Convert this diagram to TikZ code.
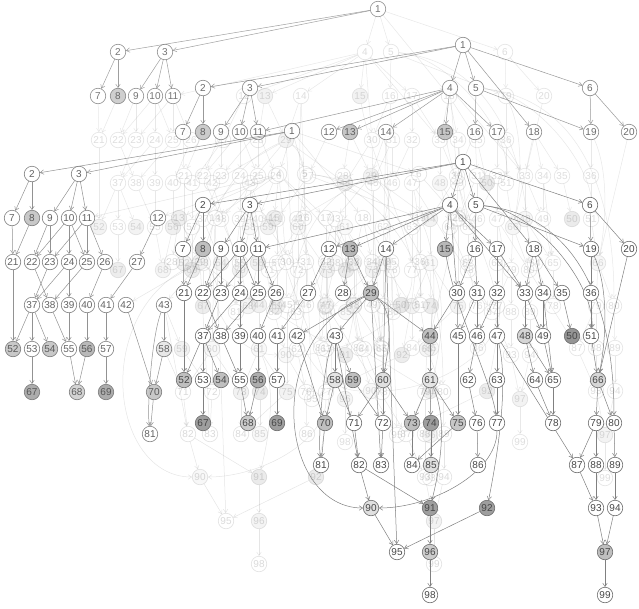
\documentclass[tikz,border=0pt]{standalone}
\usepackage{fontspec}
\setmainfont{Liberation Sans}
\usetikzlibrary{arrows.meta}
\makeatletter
\newcommand\gfsetop[2]{%
  \edef\gf@tmp{\noexpand\in@{,#1,}{,\frSet,}}\gf@tmp
  \ifin@\edef#2{\frStrong}\else\edef#2{\frWeak}\fi}
\makeatother
\tikzset{
  gshape/.style={circle, minimum size=15.5pt, inner sep=0pt},
  gnode/.style={gshape, draw=black!58, line width=0.6pt,
    text=black!72, font=\fontsize{10}{10}\selectfont},
  gedge/.style={draw=black!50, line width=0.5pt,
    -{Straight Barb[length=3.5pt,width=4.5pt]}}
}
\def\nodelist{1/463/162/0,
2/203/205/0, 3/250/205/0, 4/450/205/0, 5/476/205/0, 6/590/205/0,
7/183/249/0, 8/203/249/25, 9/221/249/0, 10/240/249/0, 11/258/249/0, 12/329/249/0, 13/350/249/28, 14/386/249/0, 15/445/249/28, 16/475/249/0, 17/497/249/0, 18/534/249/0, 19/591/249/0, 20/629/249/0,
21/184/293/0, 22/203/293/0, 23/221/293/0, 24/240/293/0, 25/258/293/0, 26/276/293/0, 27/308/293/0, 28/343/293/0, 29/371/293/25, 30/457/293/0, 31/477/293/0, 32/497/293/0, 33/525/293/0, 34/543/293/0, 35/562/293/0, 36/591/293/0,
37/203/336/0, 38/221/336/0, 39/240/336/0, 40/258/336/0, 41/277/336/0, 42/297/336/0, 43/335/336/0, 44/430/336/25, 45/458/336/0, 46/477/336/0, 47/497/336/0, 48/525/336/16, 49/543/336/0, 50/572/336/42, 51/591/336/0,
52/184/380/25, 53/203/380/0, 54/221/380/25, 55/240/380/0, 56/258/380/32, 57/277/380/0, 58/335/380/10, 59/353/380/25, 60/383/380/12, 61/430/380/10, 62/468/380/0, 63/497/380/0, 64/535/380/0, 65/553/380/0, 66/598/380/16,
67/203/423/38, 68/248/423/20, 69/277/423/38, 70/325/423/25, 71/354/423/0, 72/383/423/0, 73/412/423/25, 74/431/423/38, 75/458/423/22, 76/477/423/0, 77/497/423/0, 78/553/423/0, 79/596/423/0, 80/614/423/0,
81/321/465/0, 82/359/465/0, 83/381/465/0, 84/412/465/0, 85/431/465/12, 86/478/465/0, 87/577/465/0, 88/596/465/0, 89/615/465/0,
90/371/508/12, 91/430/508/38, 92/487/508/38, 93/596/508/0, 94/615/508/0,
95/397/552/0, 96/430/552/20, 97/605/552/25,
98/430/595/0, 99/605/595/0}
\def\edgelist{1/2, 1/3, 1/4, 1/5, 1/6, 1/18,
2/7, 2/8, 3/9, 3/10, 3/11,
4/11, 4/12, 4/13, 4/14, 4/15, 4/30, 4/17, 4/33,
5/16, 5/19, 6/19, 6/20,
7/21, 8/21, 9/22, 9/23, 10/22, 10/24, 10/25, 11/23, 11/25, 11/26,
12/27, 13/28, 13/29, 14/29, 14/60, 14/95,
16/30, 16/31, 17/32, 17/33, 18/33, 18/34, 18/35, 19/36, 20/66,
21/52, 22/38, 23/37, 24/37, 24/39, 25/38, 26/40, 27/41,
29/42, 29/43, 29/44, 29/83,
30/44, 30/45, 31/45, 31/46, 32/46, 32/47, 33/48, 33/49, 34/49, 34/65, 35/50, 36/51,
37/52, 37/53, 37/54, 38/55, 39/55, 40/56, 41/57, 42/70, 43/58, 43/59, 43/82,
44/61, 45/75, 46/62, 47/63, 47/87, 48/64, 48/65, 49/65, 51/66,
53/67, 55/68, 56/68, 57/69, 58/70, 58/71, 59/72, 60/71, 60/72, 60/73, 61/73, 61/74, 61/75, 62/76, 63/77, 64/78, 65/78, 66/79, 66/80,
70/81, 71/82, 72/83, 73/84, 74/85, 75/84, 76/86, 79/87, 79/88, 80/89,
82/90, 82/91, 87/93, 88/93, 89/94,
90/95, 91/96, 92/95, 93/97, 94/97, 96/98, 97/99}
\def\curvelist{5/51/60/5/5/-50, 5/80/100/10/0/-120, 15/77/10/60/-5/-40,
19/66/18/40/8/-40, 29/60/25/20/5/-30, 29/90/-110/50/-90/0,
43/81/-12/30/-3/-30, 47/92/12/50/10/-50, 61/91/18/40/10/-40, 77/90/0/50/60/0}
\newcommand\drawframe[6]{%
  \def\frSet{#4}\def\frStrong{#5}\def\frWeak{#6}%
  \begin{scope}[shift={(#2,#3)}]
  \foreach \n/\x/\y/\f in \nodelist {
    \node[gshape] (#1\n) at (\x,\y) {};
  }
  \foreach \s/\t in \edgelist {
    \gfsetop{\s}{\opa}\gfsetop{\t}{\opb}
    \pgfmathsetmacro\eop{min(\opa,\opb)}
    \draw[gedge, draw opacity=\eop] (#1\s) -- (#1\t);
  }
  \foreach \s/\t/\ax/\ay/\bx/\by in \curvelist {
    \gfsetop{\s}{\opa}\gfsetop{\t}{\opb}
    \pgfmathsetmacro\eop{min(\opa,\opb)}
    \draw[gedge, draw opacity=\eop] (#1\s) .. controls +(\ax,\ay) and +(\bx,\by) .. (#1\t);
  }
  \foreach \n/\x/\y/\f in \nodelist {
    \gfsetop{\n}{\nop}
    \node[gnode, fill=black!\f, draw opacity=\nop, fill opacity=\nop, text opacity=\nop] (#1\n v) at (\x,\y) {\n};
  }
  \end{scope}}
\begin{document}
\begin{tikzpicture}[x=1pt,y=-1pt]
\fill[white] (0,0) rectangle (639,608);
\useasboundingbox (0,0) rectangle (639,608);
\drawframe{A}{-85}{-153}{1,2,3,7,8,9,10,11}{0.75}{0.18}
\drawframe{B}{0}{-117}{1,2,3,4,5,6,7,8,9,10,11,12,13,14,15,16,17,18,19,20}{0.8}{0.18}
\drawframe{L}{-171}{-31}{1,2,3,7,8,9,10,11,12,21,22,23,24,25,26,27,37,38,39,40,41,42,43,52,53,54,55,56,57,58,67,68,69,70,81}{0.85}{0.2}
\drawframe{F}{0}{0}{1}{1}{1}
\end{tikzpicture}
\end{document}
